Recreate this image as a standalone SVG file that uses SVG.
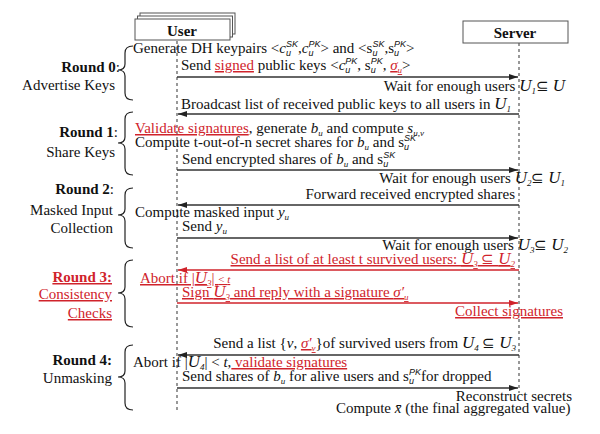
<svg xmlns="http://www.w3.org/2000/svg" width="600" height="434" viewBox="0 0 600 434">
<style>
.t{font-family:"Liberation Serif","Times New Roman",serif;font-size:15px;fill:#111}
.r{fill:#d0232b}
.i{font-style:italic}
.b{font-weight:bold}
.u{text-decoration:underline}
.sup{font-family:"Liberation Sans",Arial,sans-serif;font-style:italic;font-size:9px}
.sub{font-style:italic;font-size:9px}
.U{font-style:italic;font-size:17px}
.life{stroke:#555;stroke-width:1.2;stroke-dasharray:3,3;fill:none}
.ar{stroke:#333;stroke-width:1.5;fill:none}
.arr{stroke:#d0232b;stroke-width:1.5;fill:none}
.brace{stroke:#222;stroke-width:1.2;fill:none}
.box{fill:#fff;stroke:#555;stroke-width:1}
</style>
<defs>
<marker id="ah" markerUnits="userSpaceOnUse" markerWidth="10" markerHeight="8" refX="9" refY="4" orient="auto"><path d="M0,1 L9,4 L0,7 Z" fill="#222"/></marker>
<marker id="ahr" markerUnits="userSpaceOnUse" markerWidth="10" markerHeight="8" refX="9" refY="4" orient="auto"><path d="M0,1 L9,4 L0,7 Z" fill="#d0232b"/></marker>
</defs>
<rect width="600" height="434" fill="#fff"/>

<g id="user">
<rect class="box" x="140" y="13" width="95" height="21"/>
<rect class="box" x="137.5" y="16" width="95" height="21"/>
<rect class="box" x="135" y="19" width="95" height="21"/>
<text class="t b" x="182" y="36" font-size="19" text-anchor="middle">User</text>
</g>
<g id="server">
<rect class="box" x="463" y="21" width="105" height="22"/>
<text class="t b" x="515" y="38" font-size="19" text-anchor="middle">Server</text>
</g>
<g id="lifelines">
<line class="life" x1="177" y1="41" x2="177" y2="410"/>
<line class="life" x1="519" y1="43" x2="519" y2="393"/>
</g>

<g id="braces">
<path class="brace" d="M133,46 Q125,46 125,53 L125,64 Q125,70 118,70 Q125,70 125,76 L125,93 Q125,100 133,100"/>
<path class="brace" d="M133,112 Q125,112 125,119 L125,137 Q125,143 118,143 Q125,143 125,149 L125,168 Q125,175 133,175"/>
<path class="brace" d="M133,188 Q125,188 125,195 L125,209 Q125,215 118,215 Q125,215 125,221 L125,241 Q125,248 133,248"/>
<path class="brace" d="M133,260 Q125,260 125,267 L125,287 Q125,293 118,293 Q125,293 125,299 L125,320 Q125,327 133,327"/>
<path class="brace" d="M133,345 Q125,345 125,352 L125,371 Q125,377 118,377 Q125,377 125,383 L125,403 Q125,410 133,410"/>
</g>

<g id="round0">
<text class="t" x="120" y="72" text-anchor="end"><tspan class="b">Round 0</tspan>:</text>
<text class="t" x="115" y="90" text-anchor="end">Advertise Keys</text>
</g>
<g id="round1">
<text class="t" x="118" y="137" text-anchor="end"><tspan class="b">Round 1</tspan>:</text>
<text class="t" x="115" y="157" text-anchor="end">Share Keys</text>
</g>
<g id="round2">
<text class="t" x="114" y="194" text-anchor="end"><tspan class="b">Round 2</tspan>:</text>
<text class="t" x="113" y="215" text-anchor="end">Masked Input</text>
<text class="t" x="113" y="233" text-anchor="end">Collection</text>
</g>
<g id="round3">
<text class="t r b u" x="112" y="282" text-anchor="end">Round 3:</text>
<text class="t r u" x="112" y="299" text-anchor="end">Consistency</text>
<text class="t r u" x="112" y="318" text-anchor="end">Checks</text>
</g>
<g id="round4">
<text class="t b" x="112" y="365" text-anchor="end">Round 4:</text>
<text class="t" x="112" y="383" text-anchor="end">Unmasking</text>
</g>

<g id="connectors">
<line class="ar" x1="177" y1="77" x2="518" y2="77" marker-end="url(#ah)"/>
<line class="ar" x1="519" y1="114" x2="178" y2="114" marker-end="url(#ah)"/>
<line class="ar" x1="177" y1="170" x2="518" y2="170" marker-end="url(#ah)"/>
<line class="ar" x1="519" y1="205" x2="178" y2="205" marker-end="url(#ah)"/>
<line class="ar" x1="177" y1="238" x2="518" y2="238" marker-end="url(#ah)"/>
<line class="arr" x1="519" y1="270" x2="178" y2="270" marker-end="url(#ahr)"/>
<line class="arr" x1="177" y1="303" x2="518" y2="303" marker-end="url(#ahr)"/>
<line class="ar" x1="519" y1="355" x2="178" y2="355" marker-end="url(#ah)"/>
<line class="ar" x1="177" y1="388" x2="518" y2="388" marker-end="url(#ah)"/>
</g>

<g id="msg-r0">
<text class="t" x="133" y="53">Generate DH keypairs &lt;<tspan class="i">c</tspan><tspan class="sup" dy="-6">SK</tspan><tspan class="sup" dx="-12" dy="9">u</tspan><tspan dx="7" dy="-3">,</tspan><tspan class="i">c</tspan><tspan class="sup" dy="-6">PK</tspan><tspan class="sup" dx="-12" dy="9">u</tspan><tspan dx="7" dy="-3">&gt; and &lt;s</tspan><tspan class="sup" dy="-6">SK</tspan><tspan class="sup" dx="-12" dy="9">u</tspan><tspan dx="7" dy="-3">,s</tspan><tspan class="sup" dy="-6">PK</tspan><tspan class="sup" dx="-12" dy="9">u</tspan><tspan dx="7" dy="-3">&gt;</tspan></text>
<text class="t" x="181" y="70">Send <tspan class="r u">signed</tspan> public keys &lt;<tspan class="i">c</tspan><tspan class="sup" dy="-6">PK</tspan><tspan class="sup" dx="-12" dy="9">u</tspan><tspan dx="7" dy="-3">, s</tspan><tspan class="sup" dy="-6">PK</tspan><tspan class="sup" dx="-12" dy="9">u</tspan><tspan dx="7" dy="-3">, </tspan><tspan class="r u i">σ<tspan class="sub" dy="3">u</tspan></tspan><tspan dy="-3">&gt;</tspan></text>
<text class="t" x="565" y="91" text-anchor="end">Wait for enough users <tspan class="U">U</tspan><tspan class="sub" dy="3">1</tspan><tspan dy="-3">⊆ </tspan><tspan class="U">U</tspan></text>
<text class="t" x="181" y="109">Broadcast list of received public keys to all users in <tspan class="U">U</tspan><tspan class="sub" dy="3">1</tspan></text>
</g>

<g id="msg-r1">
<text class="t" x="135" y="133"><tspan class="r u">Validate signatures</tspan>, generate <tspan class="i">b</tspan><tspan class="sub" dy="3">u</tspan><tspan dy="-3"> and compute  </tspan><tspan class="i">s</tspan><tspan class="sub" dy="3">u,v</tspan></text>
<text class="t" x="135" y="147">Compute t-out-of-n secret shares for <tspan class="i">b</tspan><tspan class="sub" dy="3">u</tspan><tspan dy="-3"> and s</tspan><tspan class="sup" dy="-6">SK</tspan><tspan class="sup" dx="-12" dy="9">u</tspan></text>
<text class="t" x="182" y="164">Send encrypted shares of <tspan class="i">b</tspan><tspan class="sub" dy="3">u</tspan><tspan dy="-3"> and s</tspan><tspan class="sup" dy="-6">SK</tspan><tspan class="sup" dx="-12" dy="9">u</tspan></text>
<text class="t" x="565" y="183" text-anchor="end">Wait for enough users <tspan class="U">U</tspan><tspan class="sub" dy="3">2</tspan><tspan dy="-3">⊆ </tspan><tspan class="U">U</tspan><tspan class="sub" dy="3">1</tspan></text>
</g>

<g id="msg-r2">
<text class="t" x="515" y="199" text-anchor="end">Forward received encrypted shares</text>
<text class="t" x="135" y="217">Compute masked input <tspan class="i">y</tspan><tspan class="sub" dy="3">u</tspan></text>
<text class="t" x="182" y="231">Send <tspan class="i">y</tspan><tspan class="sub" dy="3">u</tspan></text>
<text class="t" x="568" y="250" text-anchor="end">Wait for enough users <tspan class="U">U</tspan><tspan class="sub" dy="3">3</tspan><tspan dy="-3">⊆ </tspan><tspan class="U">U</tspan><tspan class="sub" dy="3">2</tspan></text>
</g>

<g id="msg-r3">
<text class="t r u" x="515" y="264" text-anchor="end">Send a list of at least t survived users: <tspan class="U">U</tspan><tspan class="sub" dy="3">3</tspan><tspan dy="-3"> ⊆ </tspan><tspan class="U">U</tspan><tspan class="sub" dy="3">2</tspan></text>
<text class="t r u" x="140" y="283">Abort if |<tspan class="U">U</tspan><tspan class="sub" dy="3">3</tspan><tspan dy="-3">| </tspan><tspan font-size="11">&lt; <tspan class="i">t</tspan></tspan></text>
<text class="t r u" x="182" y="297">Sign <tspan class="U">U</tspan><tspan class="sub" dy="3">3</tspan><tspan dy="-3"> and reply with a signature </tspan><tspan class="i">σ′</tspan><tspan class="sub" dy="3">u</tspan></text>
<text class="t r u" x="563" y="316" text-anchor="end">Collect signatures</text>
</g>

<g id="msg-r4">
<text class="t" x="516" y="348" text-anchor="end">Send a list {<tspan class="i">v</tspan>, <tspan class="r u i">σ′<tspan class="sub" dy="3">v</tspan></tspan><tspan dy="-3">}of survived users from </tspan><tspan class="U">U</tspan><tspan class="sub" dy="3">4</tspan><tspan dy="-3"> ⊆ </tspan><tspan class="U">U</tspan><tspan class="sub" dy="3">3</tspan></text>
<text class="t" x="133" y="367">Abort if |<tspan class="U">U</tspan><tspan class="sub" dy="3">4</tspan><tspan dy="-3">| &lt; </tspan><tspan class="i">t</tspan>,<tspan class="r u"> validate signatures</tspan></text>
<text class="t" x="182" y="381">Send shares of <tspan class="i">b</tspan><tspan class="sub" dy="3">u</tspan><tspan dy="-3"> for alive users and s</tspan><tspan class="sup" dy="-6">PK</tspan><tspan class="sup" dx="-12" dy="9">u</tspan><tspan dx="7" dy="-3">for dropped</tspan></text>
<text class="t" x="572" y="401" text-anchor="end">Reconstruct secrets</text>
<text class="t" x="336" y="413">Compute <tspan class="i">x̄</tspan> (the final aggregated value)</text>
</g>
</svg>
